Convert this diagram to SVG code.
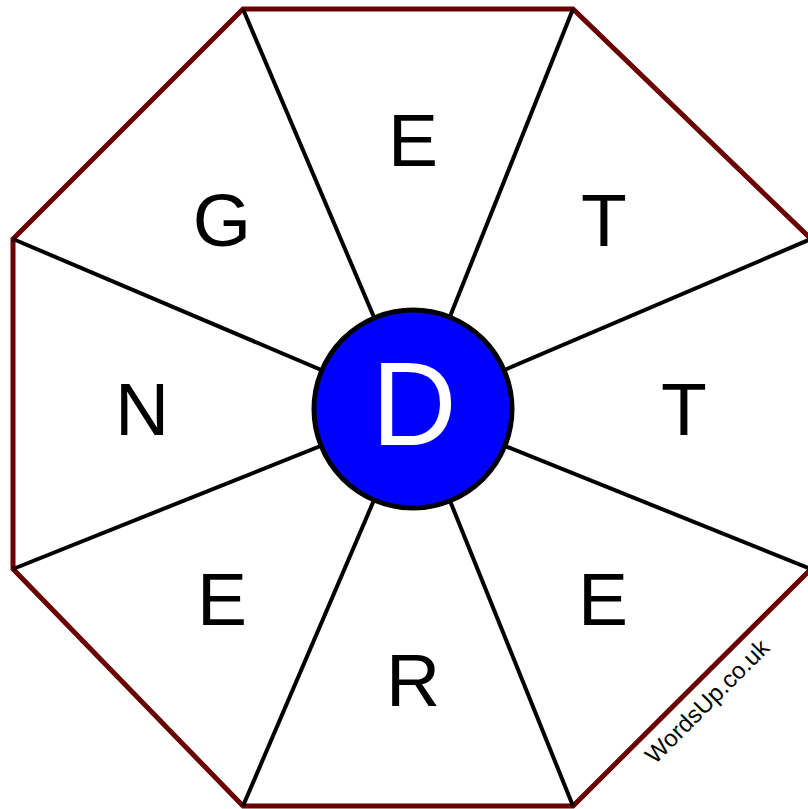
<svg xmlns="http://www.w3.org/2000/svg" width="808" height="809" viewBox="0 0 808 809">
<style>
.spoke{stroke:#000;stroke-width:4;fill:none}
.letter{font-family:"Liberation Sans",Arial,sans-serif;font-size:75px;fill:#000;text-anchor:middle}
</style>
<rect width="808" height="809" fill="#fff"/>
<g id="octagon">
<polygon points="243,9 573,9 811,239 811,569 573,806 243,806 13,569 13,239" fill="#fff" stroke="#6b0000" stroke-width="5"/>
</g>
<g id="connectors">
<line class="spoke" x1="243" y1="9" x2="413" y2="409"/>
<line class="spoke" x1="573" y1="9" x2="413" y2="409"/>
<line class="spoke" x1="811" y1="239" x2="413" y2="409"/>
<line class="spoke" x1="811" y1="569" x2="413" y2="409"/>
<line class="spoke" x1="573" y1="806" x2="413" y2="409"/>
<line class="spoke" x1="243" y1="806" x2="413" y2="409"/>
<line class="spoke" x1="13" y1="569" x2="413" y2="409"/>
<line class="spoke" x1="13" y1="239" x2="413" y2="409"/>
</g>
<g id="seg-top"><text class="letter" x="413" y="166">E</text></g>
<g id="seg-topright"><text class="letter" x="604" y="246">T</text></g>
<g id="seg-right"><text class="letter" x="684" y="435">T</text></g>
<g id="seg-bottomright"><text class="letter" x="603" y="625">E</text></g>
<g id="seg-bottom"><text class="letter" x="413" y="706">R</text></g>
<g id="seg-bottomleft"><text class="letter" x="222" y="625">E</text></g>
<g id="seg-left"><text class="letter" x="142" y="435">N</text></g>
<g id="seg-topleft"><text class="letter" x="222" y="246">G</text></g>
<g id="center">
<circle cx="413" cy="409" r="99" fill="#0000ff" stroke="#000" stroke-width="5"/>
<text x="414" y="445" font-family="'Liberation Sans',Arial,sans-serif" font-size="118" fill="#fff" text-anchor="middle">D</text>
</g>
<g id="credit">
<text transform="translate(655,765) rotate(-45)" font-family="'Liberation Sans',Arial,sans-serif" font-size="24" fill="#000">WordsUp.co.uk</text>
</g>
</svg>
